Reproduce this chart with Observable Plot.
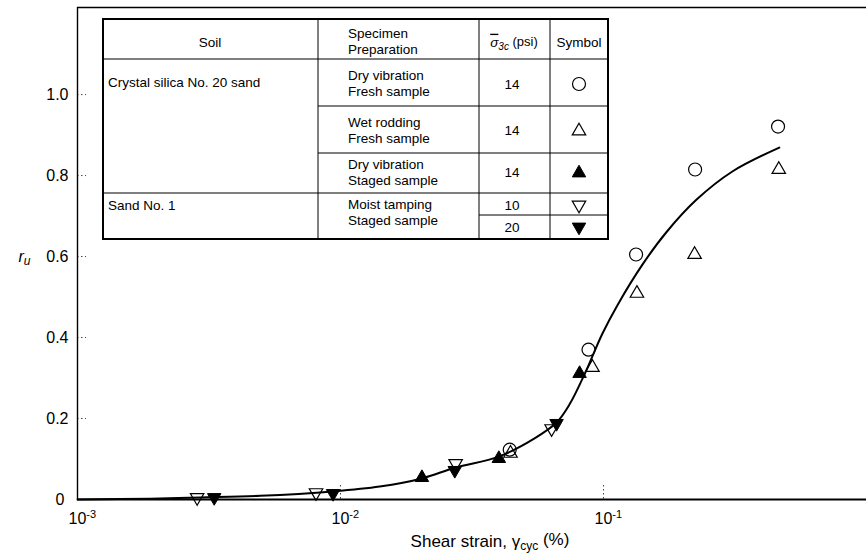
<!DOCTYPE html>
<html><head><meta charset="utf-8">
<script src="https://cdn.jsdelivr.net/npm/d3@7"></script>
<script src="https://cdn.jsdelivr.net/npm/@observablehq/plot@0.6"></script>
<style>
body{margin:0;background:#fff;}
#chart svg{font-family:"Liberation Sans",Arial,sans-serif;}
</style></head><body><div id="chart"></div>
<script>
// ---- data ----
const xTickValues = [0.001, 0.01, 0.1];
const yTickValues = [0, 0.2, 0.4, 0.6, 0.8, 1.0];
const xDomain = [0.001, 1];
const yDomain = [0, 1.215];

const curveX = [0.001, 0.00189, 0.00293, 0.00495, 0.00937, 0.0141, 0.0204, 0.0274, 0.0400, 0.0547, 0.0663, 0.0743, 0.0848, 0.0991, 0.113, 0.1406, 0.1734, 0.2254, 0.309, 0.466];
const curveY = [0, 0.002, 0.005, 0.009, 0.020, 0.032, 0.052, 0.079, 0.106, 0.151, 0.19, 0.235, 0.31, 0.41, 0.48, 0.58, 0.66, 0.74, 0.81, 0.869];

const circleX = [0.0440, 0.0877, 0.133, 0.223, 0.461];
const circleY = [0.123, 0.370, 0.605, 0.815, 0.921];
const openUpX = [0.0443, 0.0908, 0.134, 0.222, 0.464];
const openUpY = [0.114, 0.326, 0.509, 0.605, 0.815];
const filledUpX = [0.0204, 0.0400, 0.0811];
const filledUpY = [0.054, 0.101, 0.311];
const openDownX = [0.00285, 0.00807, 0.0274, 0.0635];
const openDownY = [0.005, 0.017, 0.089, 0.175];
const filledDownX = [0.00331, 0.00937, 0.0272, 0.0663];
const filledDownY = [0.005, 0.015, 0.072, 0.188];

const tableSoils = ["Crystal silica No. 20 sand", "Sand No. 1"];
const tablePreps = [["Dry vibration", "Fresh sample"], ["Wet rodding", "Fresh sample"], ["Dry vibration", "Staged sample"], ["Moist tamping", "Staged sample"]];
const tableSigma = ["14", "14", "14", "10", "20"];
const tableSymbols = ["openCircle", "openUp", "filledUp", "openDown", "filledDown"];

const pts = (xs, ys) => xs.map((x, i) => ({x, y: ys[i]}));

// ---- chart ----
const plot = Plot.plot({
  width: 866, height: 557,
  marginLeft: 77, marginRight: 0, marginTop: 7, marginBottom: 58,
  style: {fontFamily: "Liberation Sans, Arial, sans-serif", fontSize: "16px", background: "white", color: "black"},
  x: {type: "log", domain: xDomain, axis: null},
  y: {domain: yDomain, axis: null},
  marks: [
    Plot.tickY(yTickValues.filter(d => d > 0), {y: d => d, stroke: "#444", strokeWidth: 1, strokeDasharray: "1.5,2.5", insetRight: 780}),
    Plot.tickX(xTickValues.slice(1), {x: d => d, stroke: "#444", strokeWidth: 1, strokeDasharray: "1.5,2.5", insetTop: 478}),
    Plot.ruleX([xDomain[0]], {stroke: "black", strokeWidth: 1.4}),
    Plot.ruleY([yDomain[1]], {stroke: "black", strokeWidth: 1.6}),
    Plot.ruleY([0], {stroke: "black", strokeWidth: 2.2}),
    Plot.text(yTickValues.filter(d => d > 0), {x: xDomain[0], y: d => d, text: d => d.toFixed(1), textAnchor: "end", dx: -9, fontSize: 16}),
    Plot.text([0], {x: xDomain[0], y: d => d, text: d => "0", textAnchor: "end", dx: -13, fontSize: 16}),
    Plot.text(xTickValues, {x: d => d, frameAnchor: "bottom", dy: 24, text: d => "10^" + Math.round(Math.log10(d)), textAnchor: "start", dx: -9, fontSize: 16}),
    Plot.text(["r_u"], {frameAnchor: "left", y: 0.6, dx: -59, textAnchor: "start", fontSize: 16}),
    Plot.text(["Shear strain, γ_cyc (%)"], {frameAnchor: "bottom", dy: 47, dx: 18, fontSize: 17}),
    Plot.line(pts(curveX, curveY), {x: "x", y: "y", curve: "catmull-rom", stroke: "black", strokeWidth: 2}),
    Plot.dot(pts(circleX, circleY), {x: "x", y: "y", r: 6.5, stroke: "black", strokeWidth: 1.2, fill: "none"}),
    Plot.dot(pts(openUpX, openUpY), {x: "x", y: "y", symbol: "triangle", r: 5, stroke: "black", strokeWidth: 1.2, fill: "none"}),
    Plot.dot(pts(filledUpX, filledUpY), {x: "x", y: "y", symbol: "triangle", r: 5, stroke: "black", strokeWidth: 1, fill: "black"}),
    Plot.dot(pts(openDownX, openDownY), {x: "x", y: "y", symbol: "triangle", rotate: 180, r: 5, stroke: "black", strokeWidth: 1.2, fill: "none"}),
    Plot.dot(pts(filledDownX, filledDownY), {x: "x", y: "y", symbol: "triangle", rotate: 180, r: 5, stroke: "black", strokeWidth: 1, fill: "black"})
  ]
});
document.getElementById("chart").appendChild(plot);

const svg = d3.select(plot);
// rebuild texts with super/subscripts
svg.selectAll("text").each(function() {
  const s = this.textContent;
  const t = d3.select(this);
  if (s.startsWith("10^")) {
    t.text("");
    t.append("tspan").text("10");
    t.append("tspan").attr("dy", "-0.5em").attr("font-size", 11).text(s.slice(3));
  } else if (s === "r_u") {
    t.text("");
    t.append("tspan").attr("font-style", "italic").text("r");
    t.append("tspan").attr("dy", "0.3em").attr("font-size", 12).attr("font-style", "italic").text("u");
  } else if (s.startsWith("Shear strain")) {
    t.text("");
    t.append("tspan").text("Shear strain, γ");
    t.append("tspan").attr("dy", "0.3em").attr("font-size", 12).text("cyc");
    t.append("tspan").attr("dy", "-0.3em").text(" (%)");
  }
});

// ---- table (legend) ----
const g = svg.append("g").attr("font-family", "Liberation Sans, Arial, sans-serif").attr("font-size", 13.5).attr("fill", "black");
const L = 103, R = 608, T = 19, B = 239;
const cx = [L, 318, 479, 550, R];
const line = (x1, y1, x2, y2, w) => g.append("line").attr("x1", x1).attr("y1", y1).attr("x2", x2).attr("y2", y2).attr("stroke", "black").attr("stroke-width", w || 1);
g.append("rect").attr("x", L).attr("y", T).attr("width", R - L).attr("height", B - T).attr("fill", "white").attr("stroke", "black").attr("stroke-width", 2);
line(L, 59, R, 59, 1.2);
[cx[1], cx[2], cx[3]].forEach(x => line(x, T, x, B, 1));
line(cx[1], 106, R, 106, 1);
line(cx[1], 153, R, 153, 1);
line(L, 193, R, 193, 1.2);
line(cx[2], 215, R, 215, 1);

const txt = (x, y, s, anchor) => g.append("text").attr("x", x).attr("y", y).attr("dy", "0.35em").attr("text-anchor", anchor || "start").text(s);
txt(210, 42, "Soil", "middle");
txt(348, 33, "Specimen");
txt(348, 49, "Preparation");
const sg = g.append("text").attr("x", 514).attr("y", 42).attr("dy", "0.35em").attr("text-anchor", "middle");
sg.append("tspan").attr("font-style", "italic").attr("text-decoration", "overline").text("σ");
sg.append("tspan").attr("font-style", "italic").attr("font-size", 10).attr("dy", "0.3em").text("3c");
sg.append("tspan").attr("dy", "-0.3em").attr("font-size", 13).text(" (psi)");
txt(579, 42, "Symbol", "middle");

txt(108, 82, tableSoils[0]);
txt(108, 205, tableSoils[1]);
const prepY = [75, 122, 164, 204];
tablePreps.forEach((p, i) => { txt(348, prepY[i], p[0]); txt(348, prepY[i] + 16, p[1]); });
const sigY = [84, 130, 172, 205, 227];
tableSigma.forEach((s, i) => txt(512, sigY[i], s, "middle"));

const symY = [84, 131, 173, 205, 227];
const triPath = d3.symbol(d3.symbolTriangle, Math.PI * 25)();
tableSymbols.forEach((s, i) => {
  if (s === "openCircle") {
    g.append("circle").attr("cx", 579).attr("cy", symY[i]).attr("r", 6.5).attr("fill", "none").attr("stroke", "black").attr("stroke-width", 1.2);
  } else {
    const filled = s.startsWith("filled");
    const down = s.endsWith("Down");
    g.append("path").attr("d", triPath)
      .attr("transform", `translate(579,${symY[i]})${down ? " rotate(180)" : ""}`)
      .attr("fill", filled ? "black" : "none").attr("stroke", "black").attr("stroke-width", filled ? 1 : 1.2);
  }
});
</script></body></html>
